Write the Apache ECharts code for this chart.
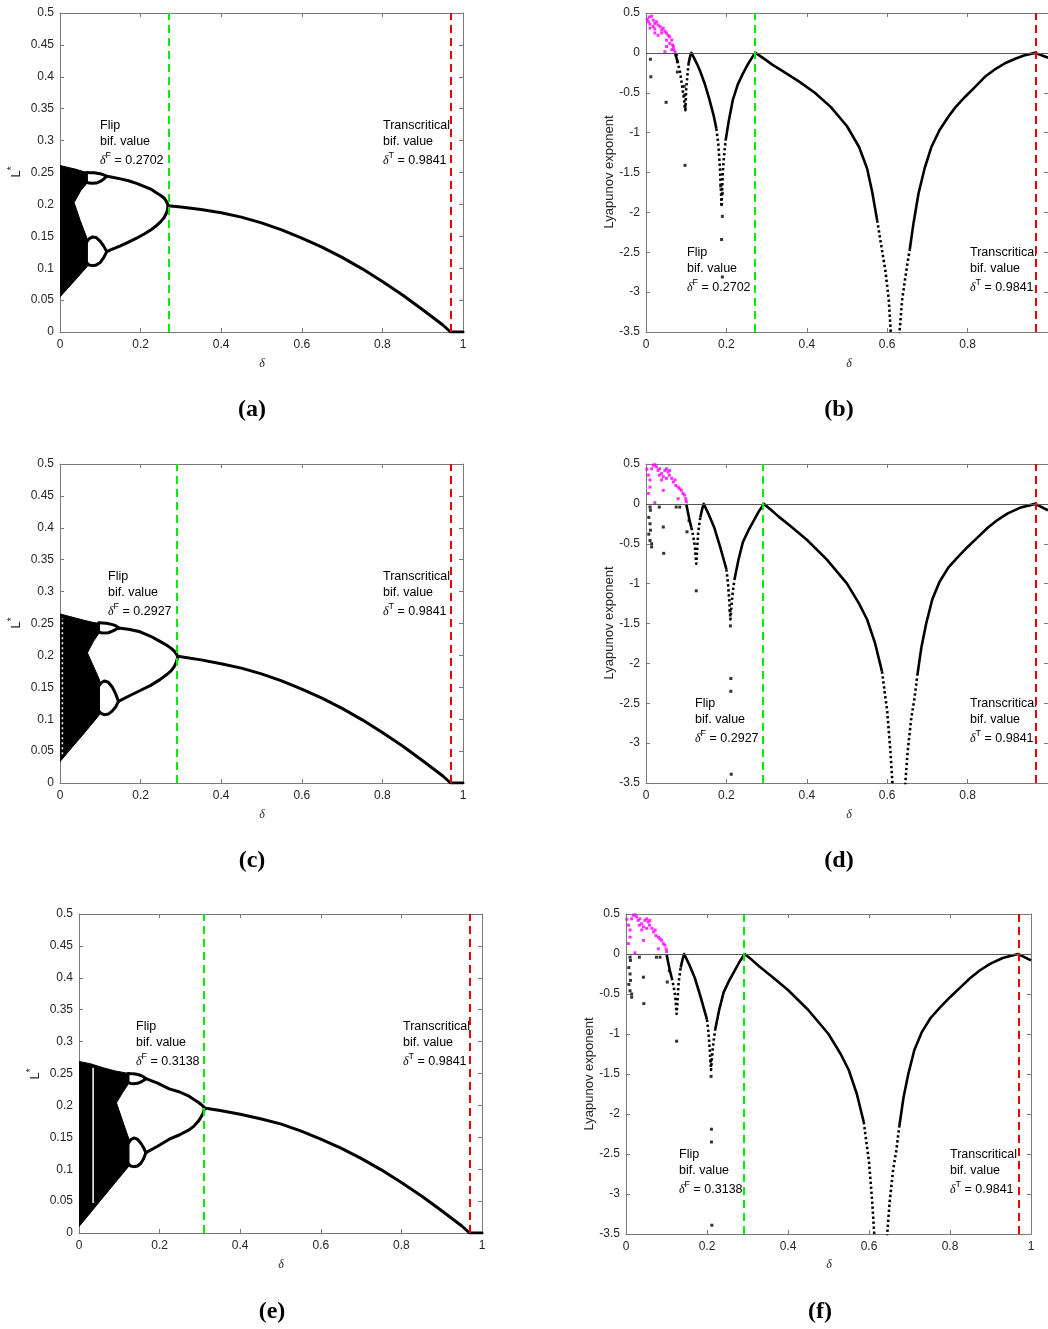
<!DOCTYPE html>
<html><head><meta charset="utf-8">
<script src="https://cdn.jsdelivr.net/npm/echarts/dist/echarts.min.js"></script>
<style>html,body{margin:0;padding:0;background:#fff}#c{width:1048px;height:1329px}</style>
</head><body><div id="c"></div><script>
// ---------- data ----------
const flipValues = ['0.2702', '0.2702', '0.2927', '0.2927', '0.3138', '0.3138'];
const transValue = '0.9841';
const flipLineX = [0.269, 0.272, 0.291, 0.292, 0.313, 0.291];
const transLineX = [0.969, 0.968, 0.969, 0.968, 0.970, 0.967];

// panel (a) bifurcation
const chaosA = [[0,0.261],[0.02,0.258],[0.04,0.255],[0.055,0.252],[0.068,0.250],[0.068,0.234],[0.052,0.222],[0.035,0.203],[0.05,0.175],[0.068,0.145],[0.068,0.103],[0.04,0.083],[0.02,0.069],[0,0.055]];
const p4UpTopA = [[0.066,0.250],[0.075,0.2498],[0.085,0.2495],[0.095,0.2485],[0.103,0.2475],[0.11,0.246],[0.116,0.244]];
const p4UpBotA = [[0.066,0.235],[0.072,0.2335],[0.08,0.233],[0.09,0.2335],[0.1,0.236],[0.108,0.2395],[0.116,0.244]];
const p4LoTopA = [[0.066,0.141],[0.072,0.146],[0.08,0.149],[0.09,0.148],[0.1,0.142],[0.108,0.135],[0.116,0.126]];
const p4LoBotA = [[0.066,0.109],[0.072,0.105],[0.08,0.104],[0.09,0.105],[0.1,0.109],[0.108,0.116],[0.116,0.126]];
const p2UpA = [[0.116,0.244],[0.13,0.2425],[0.15,0.240],[0.17,0.237],[0.19,0.233],[0.21,0.228],[0.225,0.224],[0.24,0.218],[0.25,0.214],[0.258,0.210],[0.263,0.206],[0.266,0.203],[0.268,0.199]];
const p2LoA = [[0.116,0.126],[0.13,0.130],[0.15,0.135],[0.17,0.141],[0.19,0.147],[0.21,0.154],[0.225,0.160],[0.24,0.167],[0.25,0.173],[0.258,0.179],[0.263,0.185],[0.266,0.190],[0.268,0.197]];
const fixedA = [[0.268,0.198],[0.3,0.196],[0.35,0.192],[0.4,0.187],[0.45,0.180],[0.5,0.171],[0.55,0.160],[0.6,0.147],[0.65,0.133],[0.7,0.117],[0.75,0.099],[0.8,0.079],[0.85,0.058],[0.9,0.035],[0.95,0.011],[0.969,0],[1,0]];

// panel (c) bifurcation
const chaosC = [[0,0.265],[0.03,0.26],[0.06,0.255],[0.08,0.252],[0.098,0.250],[0.098,0.236],[0.083,0.222],[0.068,0.204],[0.083,0.183],[0.098,0.162],[0.098,0.107],[0.06,0.078],[0.03,0.056],[0,0.0335]];
const streakC = [[0.006,0.045],[0.006,0.258]];
const p4UpTopC = [[0.096,0.251],[0.105,0.2508],[0.115,0.2503],[0.125,0.249],[0.133,0.2478],[0.14,0.2458],[0.145,0.243]];
const p4UpBotC = [[0.096,0.237],[0.102,0.2355],[0.11,0.235],[0.12,0.2355],[0.13,0.238],[0.138,0.2405],[0.145,0.243]];
const p4LoTopC = [[0.096,0.152],[0.102,0.157],[0.11,0.160],[0.12,0.158],[0.13,0.150],[0.138,0.140],[0.145,0.128]];
const p4LoBotC = [[0.096,0.113],[0.102,0.109],[0.11,0.107],[0.12,0.108],[0.13,0.113],[0.138,0.119],[0.145,0.128]];
const p2UpC = [[0.145,0.243],[0.17,0.241],[0.199,0.237],[0.225,0.230],[0.248,0.222],[0.265,0.216],[0.276,0.211],[0.283,0.207],[0.288,0.203],[0.291,0.2],[0.292,0.1986]];
const p2LoC = [[0.145,0.128],[0.17,0.136],[0.199,0.145],[0.225,0.153],[0.248,0.162],[0.265,0.170],[0.276,0.176],[0.283,0.182],[0.288,0.188],[0.291,0.195],[0.292,0.1986]];
const fixedC = [[0.292,0.1986],[0.35,0.193],[0.4,0.187],[0.45,0.180],[0.5,0.171],[0.55,0.160],[0.6,0.147],[0.65,0.133],[0.7,0.117],[0.75,0.099],[0.8,0.079],[0.85,0.058],[0.9,0.035],[0.95,0.011],[0.969,0],[1,0]];

// panel (e) bifurcation
const chaosE = [[0,0.269],[0.03,0.265],[0.06,0.259],[0.09,0.254],[0.124,0.250],[0.124,0.235],[0.108,0.220],[0.093,0.204],[0.108,0.176],[0.124,0.147],[0.124,0.105],[0.09,0.079],[0.06,0.056],[0.03,0.033],[0,0.010]];
const streakE = [[0.035,0.047],[0.035,0.259]];
const p4UpTopE = [[0.122,0.250],[0.13,0.2498],[0.14,0.2492],[0.148,0.248],[0.155,0.2465],[0.161,0.2445],[0.166,0.242]];
const p4UpBotE = [[0.122,0.236],[0.128,0.2345],[0.136,0.234],[0.145,0.2347],[0.153,0.2365],[0.16,0.239],[0.166,0.242]];
const p4LoTopE = [[0.122,0.140],[0.128,0.146],[0.136,0.149],[0.145,0.147],[0.153,0.141],[0.16,0.134],[0.166,0.126]];
const p4LoBotE = [[0.122,0.109],[0.128,0.105],[0.136,0.104],[0.145,0.105],[0.153,0.109],[0.16,0.116],[0.166,0.126]];
const p2UpE = [[0.166,0.242],[0.195,0.235],[0.224,0.226],[0.25,0.221],[0.274,0.214],[0.286,0.209],[0.296,0.205],[0.304,0.201],[0.309,0.198],[0.311,0.196]];
const p2LoE = [[0.166,0.126],[0.195,0.136],[0.224,0.147],[0.25,0.154],[0.274,0.162],[0.286,0.168],[0.296,0.175],[0.304,0.183],[0.309,0.189],[0.311,0.196]];
const fixedE = [[0.311,0.196],[0.35,0.192],[0.4,0.186],[0.45,0.179],[0.5,0.171],[0.55,0.160],[0.6,0.147],[0.65,0.133],[0.7,0.117],[0.75,0.099],[0.8,0.079],[0.85,0.058],[0.9,0.035],[0.95,0.011],[0.969,0],[1,0]];

// panel (b) Lyapunov
const lyapB = [[0.072,0],[0.078,-0.1],[0.085,-0.25],[0.09,-0.42],[0.095,-0.6],[0.098,-0.72],[0.1,-0.45],[0.103,-0.28],[0.106,-0.13],[0.11,-0.04],[0.113,0],
 [0.12,-0.07],[0.127,-0.14],[0.134,-0.22],[0.147,-0.4],[0.158,-0.59],[0.168,-0.78],[0.175,-0.95],[0.18,-1.15],[0.184,-1.45],[0.188,-1.9],[0.191,-1.5],[0.194,-1.3],[0.198,-1.1],[0.206,-0.85],[0.216,-0.59],[0.228,-0.4],[0.241,-0.26],[0.255,-0.13],[0.265,-0.05],[0.272,0],
 [0.29,-0.06],[0.315,-0.15],[0.35,-0.26],[0.381,-0.36],[0.42,-0.5],[0.46,-0.68],[0.5,-0.92],[0.53,-1.18],[0.55,-1.45],[0.563,-1.75],[0.575,-2.1],[0.587,-2.47],[0.596,-2.75],[0.604,-3.1],[0.608,-3.43],[0.615,-4.2],
 [0.625,-4.2],[0.631,-3.48],[0.637,-3.1],[0.649,-2.68],[0.656,-2.47],[0.665,-2.15],[0.678,-1.76],[0.693,-1.45],[0.71,-1.18],[0.73,-0.97],[0.752,-0.8],[0.77,-0.68],[0.794,-0.55],[0.82,-0.42],[0.843,-0.3],[0.87,-0.2],[0.893,-0.13],[0.92,-0.07],[0.942,-0.03],[0.968,0],[1,-0.06]];
const dottedB = [[0.078,0.106],[0.175,0.198],[0.575,0.656]];
const magentaB = [[0.003,0.42],[0.008,0.45],[0.014,0.46],[0.006,0.39],[0.010,0.36],[0.018,0.41],[0.022,0.37],[0.026,0.39],[0.030,0.35],[0.018,0.33],[0.010,0.31],[0.022,0.30],[0.035,0.33],[0.039,0.29],[0.043,0.31],[0.039,0.25],[0.047,0.27],[0.051,0.25],[0.055,0.22],[0.059,0.20],[0.051,0.16],[0.064,0.16],[0.059,0.12],[0.066,0.10],[0.068,0.08],[0.064,0.04],[0.051,0.08],[0.047,0.015],[0.069,0.045],[0.072,0.015],[0.022,0.25],[0.030,0.22]];
const strayB = [[0.011,-0.08],[0.012,-0.3],[0.05,-0.62],[0.097,-1.41],[0.076,-0.02],[0.078,-0.11],[0.078,-0.24],[0.095,-0.42],[0.096,-0.53],[0.097,-0.67],[0.186,-1.67],[0.19,-1.76],[0.188,-1.9],[0.19,-2.05],[0.188,-2.34],[0.19,-2.81]];

// panels (d) and (f) Lyapunov
const lyapD = [[0.1,0],[0.104,-0.1],[0.108,-0.2],[0.113,-0.3],[0.118,-0.42],[0.122,-0.55],[0.125,-0.75],[0.127,-0.6],[0.13,-0.35],[0.135,-0.17],[0.14,-0.06],[0.1436,0],
 [0.155,-0.12],[0.17,-0.3],[0.185,-0.55],[0.2,-0.82],[0.204,-1.0],[0.207,-1.2],[0.21,-1.45],[0.213,-1.25],[0.216,-1.1],[0.22,-0.95],[0.23,-0.7],[0.241,-0.48],[0.255,-0.33],[0.266,-0.23],[0.28,-0.1],[0.293,0],
 [0.31,-0.07],[0.33,-0.16],[0.36,-0.28],[0.4,-0.45],[0.45,-0.7],[0.5,-1.0],[0.53,-1.25],[0.55,-1.45],[0.57,-1.75],[0.587,-2.1],[0.6,-2.6],[0.608,-3.1],[0.613,-3.5],[0.62,-4.3],
 [0.638,-4.3],[0.645,-3.5],[0.651,-3.1],[0.66,-2.68],[0.667,-2.47],[0.675,-2.15],[0.685,-1.8],[0.697,-1.5],[0.712,-1.2],[0.73,-0.98],[0.752,-0.8],[0.775,-0.67],[0.8,-0.54],[0.825,-0.42],[0.85,-0.3],[0.875,-0.2],[0.9,-0.12],[0.93,-0.05],[0.968,0],[1,-0.08]];
const dottedD = [[0.113,0.135],[0.2,0.22],[0.587,0.675]];
const magentaD = [[0.002,0.435],[0.006,0.36],[0.010,0.30],[0.014,0.44],[0.018,0.485],[0.022,0.49],[0.026,0.465],[0.030,0.42],[0.034,0.44],[0.033,0.36],[0.039,0.38],[0.043,0.34],[0.047,0.42],[0.051,0.44],[0.055,0.40],[0.058,0.36],[0.059,0.42],[0.064,0.32],[0.068,0.275],[0.072,0.30],[0.074,0.23],[0.080,0.21],[0.084,0.19],[0.088,0.17],[0.092,0.13],[0.096,0.11],[0.099,0.065],[0.1,0.03],[0.080,0.065],[0.043,0.17],[0.022,0.015],[0.006,0.13],[0.010,0.21],[0.039,0.30],[0.051,0.32]];
const strayD = [[0.010,-0.04],[0.011,-0.08],[0.007,-0.17],[0.010,-0.25],[0.011,-0.33],[0.007,-0.38],[0.010,-0.46],[0.014,-0.5],[0.014,-0.54],[0.033,-0.04],[0.043,-0.29],[0.044,-0.62],[0.075,-0.04],[0.084,-0.04],[0.125,-1.09],[0.102,-0.35],[0.107,-0.21],[0.209,-1.34],[0.21,-1.53],[0.211,-2.19],[0.211,-2.35],[0.212,-3.39]];

// ---------- layout / style ----------
const FONT = "'Liberation Sans', Arial, Helvetica, sans-serif";
const AX = '#7a7a7a';
const grids = [
  {left:60, top:13, width:403, height:319},
  {left:646, top:13, width:404, height:319},
  {left:60, top:464, width:403, height:319},
  {left:646, top:464, width:404, height:319},
  {left:79, top:914, width:403, height:319},
  {left:626, top:914, width:405, height:320}
];
const kinds = ['bif','lyap','bif','lyap','bif','lyap'];

const xAxes = [], yAxes = [];
grids.forEach((g, i) => {
  const lyap = kinds[i] === 'lyap';
  const base = {gridIndex:i, type:'value', axisLine:{show:true, onZero:false, lineStyle:{color:AX, width:1}},
    axisTick:{show:true, inside:true, length:4, lineStyle:{color:AX}}, splitLine:{show:false}};
  xAxes.push(Object.assign({}, base, {position:'bottom', min:0, max:1, interval:0.2,
    axisLabel:{color:'#262626', fontSize:12, fontFamily:FONT, margin:7, showMaxLabel: !(i===1||i===3)}}));
  xAxes.push(Object.assign({}, base, {position:'top', min:0, max:1, interval:0.2, axisLabel:{show:false}}));
  const yr = lyap ? {min:-3.5, max:0.5, interval:0.5} : {min:0, max:0.5, interval:0.05};
  yAxes.push(Object.assign({}, base, yr, {position:'left',
    axisLabel:{color:'#262626', fontSize:12, fontFamily:FONT, margin:6}}));
  yAxes.push(Object.assign({}, base, yr, {position:'right', axisLabel:{show:false}}));
});

function lineS(i, data, o) {
  return Object.assign({type:'line', xAxisIndex:2*i, yAxisIndex:2*i, data:data, symbol:'none', showSymbol:false,
    silent:true, clip:true, lineStyle:{color:'#000', width:3, join:'round', cap:'round'}, z:3}, o || {});
}
function polyS(i, poly) {
  return {type:'custom', xAxisIndex:2*i, yAxisIndex:2*i, data:poly, silent:true, clip:true, z:2,
    renderItem: function(params, api){
      if (params.dataIndex !== 0) return null;
      return {type:'polygon', shape:{points: poly.map(p => api.coord(p))}, style:{fill:'#000', stroke:'#000', lineWidth:1}};
    }};
}
function vlines(i, withZero) {
  const d = [];
  if (withZero) d.push({yAxis:0, lineStyle:{color:'#555', width:1, type:'solid'}});
  d.push({xAxis:flipLineX[i], lineStyle:{color:'#00ee00', width:2, type:[8,5]}});
  d.push({xAxis:transLineX[i], lineStyle:{color:'#ee0000', width:2, type:[8,5]}});
  return {symbol:['none','none'], silent:true, label:{show:false}, data:d, animation:false};
}
function scatterS(i, data, color) {
  return {type:'scatter', xAxisIndex:2*i, yAxisIndex:2*i, data:data, symbol:'rect', symbolSize:3,
    itemStyle:{color:color}, silent:true, clip:true, z:4};
}
function bifSeries(i, chaos, lobes, p2, fixed, extra, extraDotted) {
  const s = [polyS(i, chaos)];
  (extra || []).forEach(e => s.push(lineS(i, e, {lineStyle:{color:'#fff', width:1.5}, z:2.5})));
  (extraDotted || []).forEach(e => s.push(lineS(i, e, {lineStyle:{color:'#fff', width:1.5, type:[2,3]}, z:2.5})));
  lobes.forEach(l => s.push(lineS(i, l)));
  p2.forEach(l => s.push(lineS(i, l)));
  s.push(lineS(i, fixed, {markLine: vlines(i, false)}));
  return s;
}
// split the Lyapunov curve into solid and dotted pieces (steep dip sections look dotted in the original)
function lyapSeries(i, curve, dotted, mag, stray) {
  const inDot = (a, b) => dotted.some(r => (a[0] + b[0]) / 2 > r[0] && (a[0] + b[0]) / 2 < r[1]);
  const pieces = [];
  let cur = null;
  for (let k = 0; k < curve.length - 1; k++) {
    const d = inDot(curve[k], curve[k + 1]);
    if (!cur || cur.dot !== d) { cur = {dot:d, pts:[curve[k]]}; pieces.push(cur); }
    cur.pts.push(curve[k + 1]);
  }
  const out = [];
  pieces.forEach((p, n) => {
    const o = {lineStyle:{color:'#000', width:2.6, join:'round', type: p.dot ? [2.4, 2.6] : 'solid'}};
    if (n === 0) o.markLine = vlines(i, true);
    out.push(lineS(i, p.pts, o));
  });
  out.push(scatterS(i, stray, '#000'));
  out.push(scatterS(i, mag, '#ff00ff'));
  return out;
}

const series = [].concat(
  bifSeries(0, chaosA, [p4UpTopA,p4UpBotA,p4LoTopA,p4LoBotA], [p2UpA,p2LoA], fixedA),
  lyapSeries(1, lyapB, dottedB, magentaB, strayB),
  bifSeries(2, chaosC, [p4UpTopC,p4UpBotC,p4LoTopC,p4LoBotC], [p2UpC,p2LoC], fixedC, [], [streakC]),
  lyapSeries(3, lyapD, dottedD, magentaD, strayD),
  bifSeries(4, chaosE, [p4UpTopE,p4UpBotE,p4LoTopE,p4LoBotE], [p2UpE,p2LoE], fixedE, [streakE]),
  lyapSeries(5, lyapD, dottedD, magentaD, strayD)
);

// ---------- text ----------
const graphic = [];
function annot(x, y, title, sym, val) {
  const st = {fontSize:12.5, fontFamily:FONT, fill:'#000'};
  graphic.push({type:'text', left:x, top:y-8, style:Object.assign({text:title}, st), silent:true});
  graphic.push({type:'text', left:x, top:y+8, style:Object.assign({text:'bif. value'}, st), silent:true});
  graphic.push({type:'text', left:x, top:y+24, silent:true, style:{
    text:'{d|δ}{s|' + sym + '}{n| = ' + val + '}', fontFamily:FONT, fill:'#000',
    rich:{d:{fontSize:12, fontStyle:'italic', fontFamily:'Liberation Serif, serif', verticalAlign:'bottom'},
          s:{fontSize:9, fontFamily:FONT, padding:[0,0,7,0], verticalAlign:'bottom'},
          n:{fontSize:12.5, fontFamily:FONT, verticalAlign:'bottom'}}}});
}
const annPos = [
  [100,127,383,127],[687,254,970,254],
  [108,578,383,578],[695,705,970,705],
  [136,1028,403,1028],[679,1156,950,1156]
];
annPos.forEach((p, i) => {
  annot(p[0], p[1], 'Flip', 'F', flipValues[i]);
  annot(p[2], p[3], 'Transcritical', 'T', transValue);
});
// axis names
function rotText(x, y, txt, rich) {
  graphic.push({type:'text', x:x, y:y, rotation:Math.PI/2, silent:true,
    style:{text:txt, rich:rich, fontSize:13, fontFamily:FONT, fill:'#262626', align:'center', verticalAlign:'middle'}});
}
const lRich = {l:{fontSize:13, fontFamily:FONT}, s:{fontSize:10, fontFamily:FONT, padding:[0,0,8,0]}};
rotText(16, 172, '{l|L}{s|*}', lRich);
rotText(16, 623, '{l|L}{s|*}', lRich);
rotText(35, 1074, '{l|L}{s|*}', lRich);
rotText(609, 172, 'Lyapunov exponent');
rotText(609, 623, 'Lyapunov exponent');
rotText(589, 1074, 'Lyapunov exponent');
[[262,364],[849,364],[262,815],[849,815],[281,1265],[829,1265]].forEach(p => {
  graphic.push({type:'text', x:p[0], y:p[1], silent:true, style:{text:'δ', fontSize:12, fontStyle:'italic',
    fontFamily:'Liberation Serif, serif', fill:'#262626', align:'center', verticalAlign:'middle'}});
});
[['(a)',252,410],['(b)',839,410],['(c)',252,861],['(d)',839,861],['(e)',272,1312],['(f)',820,1312]].forEach(c => {
  graphic.push({type:'text', x:c[1], y:c[2], silent:true, style:{text:c[0], fontSize:24, fontWeight:'bold',
    fontFamily:"'Liberation Serif', 'Times New Roman', serif", fill:'#000', align:'center', verticalAlign:'middle'}});
});

const chart = echarts.init(document.getElementById('c'), null, {renderer:'canvas'});
chart.setOption({animation:false, backgroundColor:'#fff', grid:grids, xAxis:xAxes, yAxis:yAxes, series:series, graphic:graphic});
</script></body></html>
